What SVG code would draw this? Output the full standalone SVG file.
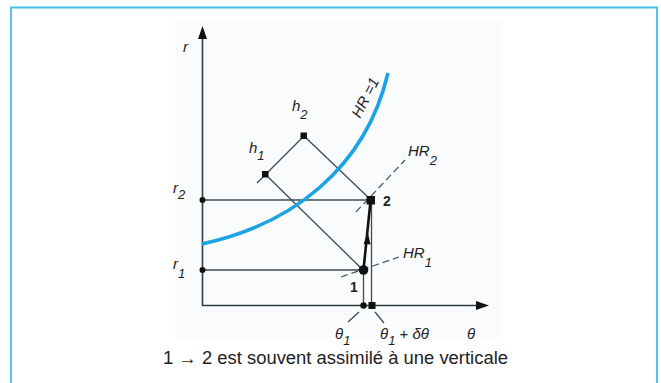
<svg xmlns="http://www.w3.org/2000/svg" width="661" height="383" viewBox="0 0 661 383">
<defs>
<style>
.frame{fill:none;stroke:#45bde9;stroke-width:1.8}
.ln{fill:none;stroke:#3b4b52;stroke-width:1.3}
.ax{fill:none;stroke:#2f3d43;stroke-width:1.6}
.dash{fill:none;stroke:#4a5a60;stroke-width:1.3;stroke-dasharray:7 4}
.curve{fill:none;stroke:#1ba3e3;stroke-width:3.6}
.dot{fill:#111}
.t{font-family:"Liberation Sans",Arial,sans-serif;fill:#222}
.it{font-style:italic}
.b{font-weight:bold}
</style>
</defs>
<rect x="0" y="0" width="661" height="383" fill="#fff"/>
<path class="frame" d="M11,390 V7.5 H657 V390"/>
<rect x="175" y="20" width="326" height="318" fill="#fafbfd"/>

<g id="connectors">
  <line class="ax" x1="202.5" y1="306" x2="202.5" y2="38"/>
  <polygon class="dot" points="202.5,26 198,39 207,39"/>
  <line class="ax" x1="202" y1="305.5" x2="478" y2="305.5"/>
  <polygon class="dot" points="489,305.5 476,301 476,310"/>
  <line class="ln" x1="202" y1="200" x2="371" y2="200"/>
  <line class="ln" x1="202" y1="270" x2="363" y2="270"/>
  <line class="ln" x1="363.5" y1="270" x2="363.5" y2="305.5"/>
  <line class="ln" x1="371.5" y1="200" x2="371.5" y2="305.5"/>
  <line class="ln" x1="257" y1="183" x2="304" y2="136"/>
  <line class="ln" x1="265" y1="174" x2="363" y2="270"/>
  <line class="ln" x1="304" y1="136" x2="371" y2="200"/>
  <line class="dash" x1="341" y1="277" x2="399" y2="257"/>
  <line class="dash" x1="356" y1="212" x2="405" y2="160"/>
  <line class="ln" x1="348" y1="322" x2="359" y2="312"/>
  <line class="ln" x1="375" y1="312" x2="384" y2="323"/>
  <line x1="363.5" y1="270" x2="370.5" y2="201" stroke="#111" stroke-width="2.6"/>
  <polygon class="dot" points="367.6,232 363.6,244 370.6,244.6"/>
  <path class="curve" d="M202,244 C290,225 365,170 388,73"/>
</g>

<g id="node-h1"><rect class="dot" x="262" y="171" width="6.5" height="6.5"/>
  <text class="t it" x="249" y="153" font-size="15">h<tspan font-size="13" dy="7">1</tspan></text></g>
<g id="node-h2"><rect class="dot" x="300.5" y="132.5" width="6.5" height="6.5"/>
  <text class="t it" x="292" y="111" font-size="15">h<tspan font-size="13" dy="8">2</tspan></text></g>
<g id="node-1"><circle class="dot" cx="363.5" cy="270" r="4.8"/>
  <text class="t b" x="350" y="291.5" font-size="14">1</text></g>
<g id="node-2"><rect class="dot" x="366.5" y="196" width="8.5" height="8.5"/>
  <text class="t b" x="383" y="206" font-size="14">2</text></g>
<g id="node-r1"><circle class="dot" cx="202.5" cy="270" r="3"/>
  <text class="t it" x="173" y="269" font-size="15">r<tspan font-size="13" dy="9">1</tspan></text></g>
<g id="node-r2"><circle class="dot" cx="202.5" cy="200" r="3"/>
  <text class="t it" x="173" y="193" font-size="15">r<tspan font-size="13" dy="6">2</tspan></text></g>
<g id="node-t1"><circle class="dot" cx="363.5" cy="305.5" r="3.2"/>
  <text class="t it" x="335" y="339" font-size="15">θ<tspan font-size="13" dy="6">1</tspan></text></g>
<g id="node-t2"><rect class="dot" x="368.5" y="302" width="7" height="7"/>
  <text class="t it" x="380" y="339" font-size="15">θ<tspan font-size="13" dy="6">1</tspan><tspan dy="-6" font-style="normal"> + </tspan>δθ</text></g>
<g id="labels">
  <text class="t it" x="183" y="52" font-size="15">r</text>
  <text class="t it" x="467" y="339" font-size="15">θ</text>
  <text class="t it" x="403" y="258" font-size="15">HR<tspan font-size="13" dy="9">1</tspan></text>
  <text class="t it" x="408" y="156" font-size="15">HR<tspan font-size="13" dy="9">2</tspan></text>
  <text class="t it" font-size="15" transform="translate(360,119) rotate(-63)">HR =1</text>
  <text class="t" x="163" y="364" font-size="17.5" textLength="345" lengthAdjust="spacingAndGlyphs">1 → 2 est souvent assimilé à une verticale</text>
</g>
</svg>
